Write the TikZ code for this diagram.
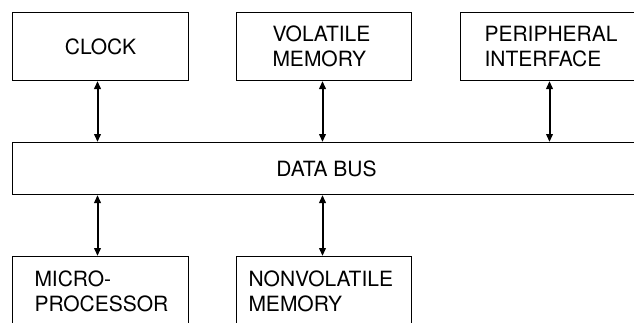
\documentclass[tikz,border=0pt]{standalone}
\usepackage{fontspec}
\setmainfont{TeX Gyre Heros}
\usetikzlibrary{arrows.meta}
\begin{document}
\begin{tikzpicture}[x=1pt,y=-1pt,
  box/.style={draw=black,line width=1pt,anchor=north west,inner sep=0pt,
    font=\fontsize{21}{25}\selectfont,text=black},
  twoline/.style={box,align=left},
  arr/.style={line width=2pt,{Triangle[length=8pt,width=6.5pt]}-{Triangle[length=8pt,width=6.5pt]}}]
\useasboundingbox (0,0) rectangle (634,322);
\clip (0,0) rectangle (634,322);
\node[box,minimum width=176pt,minimum height=68pt] (clock) at (12,12) {CLOCK};
\node[twoline,minimum height=68pt,text width=103pt,inner xsep=36pt] (vol) at (236,12) {VOLATILE\\MEMORY};
\node[twoline,minimum height=68pt,text width=152pt,inner xsep=24pt] (per) at (460,12) {PERIPHERAL\\INTERFACE};
\node[box,minimum width=628pt,minimum height=52pt] (bus) at (12,142) {DATA BUS};
\node[twoline,minimum height=69pt,text width=132pt,inner xsep=22pt] (mpu) at (12,256) {MICRO-\\PROCESSOR};
\node[twoline,minimum height=69pt,text width=151pt,inner xsep=12pt] (nvm) at (236,256) {NONVOLATILE\\MEMORY};
\draw[arr] ([xshift=-3pt]clock.south) -- ([xshift=-3pt]clock.south |- bus.north);
\draw[arr] ([xshift=-1.5pt]vol.south) -- ([xshift=-1.5pt]vol.south |- bus.north);
\draw[arr] ([xshift=-11pt]per.south) -- ([xshift=-11pt]per.south |- bus.north);
\draw[arr] ([xshift=-3pt]mpu.north |- bus.south) -- ([xshift=-3pt]mpu.north);
\draw[arr] ([xshift=-1.5pt]nvm.north |- bus.south) -- ([xshift=-1.5pt]nvm.north);
\end{tikzpicture}
\end{document}
